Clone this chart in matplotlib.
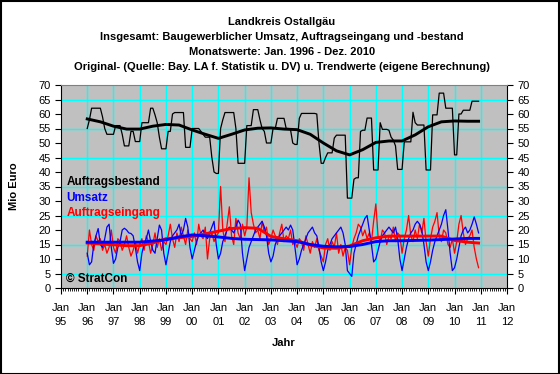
import numpy as np
import matplotlib.pyplot as plt
from matplotlib.patches import Rectangle

plt.rcParams['font.family'] = ['Liberation Sans', 'DejaVu Sans']

# monthly values Jan 1996 - Dez 2010 (Mio Euro)
umsatz = [
    12, 8, 9, 15, 18, 20.5, 15, 14, 17, 21, 22, 14,
    8.5, 10, 14, 16, 20, 20.6, 20, 19, 18.8, 18, 14, 9,
    6, 12, 15, 17, 20, 16, 13, 12, 17, 21.7, 20, 12,
    8, 12, 16, 18, 19, 20, 22, 18, 20, 24, 21, 14,
    10, 13, 16, 18, 19, 20, 18, 17, 19, 21, 23, 15,
    10, 12, 16, 18, 20, 21, 20, 19, 21, 23.4, 22, 12,
    6, 10, 14, 16, 18, 20, 21, 22, 23, 21, 18, 12,
    9, 11, 15, 17, 18, 19, 20, 21, 20, 21.7, 20, 14,
    8, 10, 13, 15, 17, 19, 20, 21, 19, 18, 14, 9,
    6, 9, 13, 15, 17, 18, 19, 20, 21, 19, 15, 6,
    5, 4, 12, 15, 18, 20, 22, 24, 25, 20, 15, 9,
    10, 13, 16, 18, 19, 20, 21, 20, 19, 21, 17, 10,
    6, 10, 14, 17, 19, 20, 22, 23, 22, 20, 15, 9,
    6, 9, 13, 16, 18, 20, 22, 25, 27, 20, 12, 6,
    7, 10, 14, 18, 20, 21, 19, 20, 22, 24.5, 22, 19,
]
auftragseingang = [
    11, 20, 15, 13, 18, 16, 17, 13, 15, 12, 14, 20,
    14, 12, 17, 16, 13, 15, 18, 14, 11, 13, 16, 12,
    15, 17, 13, 18, 16, 12, 15, 19, 14, 17, 13, 16,
    15, 18, 22, 17, 14, 19, 16, 21, 18, 15, 20, 17,
    16, 19, 15, 22, 18, 17, 21, 10, 17, 19, 16, 18,
    19, 35, 20, 16, 22, 28, 18, 15, 24, 19, 17, 22,
    18, 21, 38, 26, 22, 19, 20, 17, 23, 19, 21, 15,
    17, 20, 18, 15, 19, 22, 16, 18, 17, 20, 15, 16,
    14, 17, 16, 13, 18, 15, 12, 16, 14, 17, 13, 11,
    9, 15, 17, 13, 16, 14, 19, 12, 15, 11, 14, 13,
    8, 14, 17, 19, 22, 21, 18, 20, 17, 19, 16, 23,
    29, 18, 16, 20, 19, 15, 18, 17, 21, 16, 19, 18,
    12, 17, 20, 25, 18, 16, 20, 17, 22, 19, 24, 16,
    11, 17, 21, 23, 26, 18, 16, 20, 19, 15, 14, 17,
    12, 16, 22, 25, 19, 15, 17, 18, 20, 14, 10, 7,
]
auftragsbestand = [
    55, 58, 62, 62, 62, 62, 62, 59, 55, 53, 53, 53,
    53, 56, 56, 56, 53, 49, 49, 49, 54, 54, 50.5, 50.5,
    50.5, 57, 57, 57, 57, 62, 62, 59.7, 57, 52, 48, 48,
    48, 54, 54, 60, 60.5, 60.5, 60.5, 60.5, 60.5, 48.5, 48.5, 48.5,
    55, 55, 55, 55, 54, 53, 52, 52, 52, 45, 40, 39.5,
    39.5, 55, 58, 60.5, 60.5, 60.5, 60.5, 60.5, 55, 43, 43, 43,
    43, 56, 56, 56, 61.5, 61.5, 61.5, 58, 55, 54, 50, 50,
    50, 55, 55, 58.5, 58.5, 58.5, 58.5, 55, 55, 54.5, 50, 49.5,
    49.5, 58.5, 60.2, 60.2, 60.2, 60.2, 60.2, 60.2, 60.2, 60, 50, 43,
    43, 45, 46.6, 46.6, 46.6, 51.7, 52.7, 52.7, 52.7, 52.7, 52.7, 31,
    31, 31, 37.5, 38, 38, 54, 54.4, 54.4, 58.6, 58.6, 58.6, 40.7,
    40.7, 40.7, 57, 54.7, 54.7, 54.7, 54.4, 52, 51, 49, 40.9, 40.9,
    40.9, 50.4, 50.4, 50.4, 50.4, 60.6, 57, 56.2, 56.2, 56.2, 56.2, 40.7,
    40.7, 40.7, 59.7, 59.7, 59.7, 67.2, 67.2, 67.2, 62, 62, 62, 62,
    45.9, 45.9, 60, 60, 61.3, 61.3, 61.3, 61.3, 64.4, 64.4, 64.4, 64.4,
]

# trend values, read every 6 months (month index from Jan 1996)
trend_month = [0, 6, 12, 18, 24, 30, 36, 42, 48, 54, 60, 66, 72, 78, 84, 90,
               96, 102, 108, 114, 120, 126, 132, 138, 144, 150, 156, 162, 168, 174, 179]
trend_bestand = [58.3, 57.3, 55.8, 54.8, 54.8, 55.8, 56.4, 56.2, 54.5, 53, 51.6, 53,
                 54.5, 55.1, 55.2, 54.8, 54.6, 53, 50, 47.3, 45.9, 47.7, 50.2, 50.7,
                 50.7, 52.8, 55.6, 57.3, 57.6, 57.5, 57.5]
trend_umsatz = [15.8, 15.8, 15.8, 15.8, 15.8, 16.2, 16.6, 17.6, 18.3, 18, 17.6, 17.1,
                16.8, 16.7, 16.6, 16.3, 16, 15, 14.4, 14.2, 14.3, 15, 16, 16.3,
                16.3, 16.4, 16.5, 16.7, 16.9, 17.1, 17.1]
trend_eingang = [15.5, 15.2, 14.9, 14.6, 14.6, 15.5, 17, 17.3, 17.8, 18.7, 19.6, 20.5,
                 20.8, 20.6, 17.8, 17, 16.3, 14.8, 13.8, 13.7, 14.5, 16.3, 17.3, 17.9,
                 17.9, 17.9, 17.9, 17.9, 16.4, 15.8, 15.5]

year_labels = ['Jan\n%02d' % (y % 100) for y in range(1995, 2013)]

t = 1996 + np.arange(len(umsatz)) / 12
tt = 1996 + np.array(trend_month) / 12

W, H = 560, 374
fig = plt.figure(figsize=(W / 100, H / 100), dpi=100)
fig.patches.append(Rectangle((0.001, 0.001), 0.997, 0.996, transform=fig.transFigure,
                             fill=False, ec='black', lw=1.5))

ax = fig.add_axes([61 / W, 1 - 288 / H, 446 / W, 203 / H])
ax.set_facecolor('#c0c0c0')
ax.set_xlim(1995, 2012)
ax.set_ylim(0, 70)

for yr in range(1996, 2012):
    ax.axvline(yr, color='#00ffff', lw=1, zorder=1)
for v in range(5, 70, 10):
    ax.axhline(v, color='#00ffff', lw=1, zorder=1)

ax.plot(t, auftragseingang, color='red', lw=0.9, zorder=3)
ax.plot(t, umsatz, color='blue', lw=0.9, zorder=3)
ax.plot(t, auftragsbestand, color='black', lw=0.9, zorder=3)
ax.plot(tt, trend_eingang, color='red', lw=2.1, zorder=4)
ax.plot(tt, trend_umsatz, color='blue', lw=2.1, zorder=4)
ax.plot(tt, trend_bestand, color='black', lw=2.1, zorder=4)

ax.set_xticks(range(1995, 2013))
ax.set_xticklabels(year_labels, fontsize=8, linespacing=1.45)
ax.set_xticks(1995 + np.arange(0, 205) / 12, minor=True)
ax.set_yticks(range(0, 71, 5))
ax.tick_params(axis='both', labelsize=8, length=4, width=0.8)
ax.tick_params(axis='x', which='minor', length=2, width=0.6)
ax.tick_params(axis='y', right=True, labelright=True)
ax.tick_params(axis='x', pad=7)
for s in ['left', 'bottom', 'right']:
    ax.spines[s].set_color('black')
ax.spines['top'].set_color('#808080')

ax.set_xlabel('Jahr', fontsize=8, fontweight='bold', labelpad=8)
ax.set_ylabel('Mio Euro', fontsize=8, fontweight='bold', labelpad=14)

titles = ['Landkreis Ostallgäu',
          'Insgesamt: Baugewerblicher Umsatz, Auftragseingang und -bestand',
          'Monatswerte: Jan. 1996 - Dez. 2010',
          'Original- (Quelle: Bay. LA f. Statistik u. DV) u. Trendwerte (eigene Berechnung)']
for i, s in enumerate(titles):
    fig.text(282 / W, 1 - (22 + 15 * i) / H, s, ha='center', va='center',
             fontsize=8, fontweight='bold')

ax.text(1995.2, 36.5, 'Auftragsbestand', color='black', fontsize=8.5, fontweight='bold', va='center')
ax.text(1995.2, 31, 'Umsatz', color='blue', fontsize=8.5, fontweight='bold', va='center')
ax.text(1995.2, 25.8, 'Auftragseingang', color='red', fontsize=8.5, fontweight='bold', va='center')
ax.text(1995.2, 3.2, '© StratCon', color='black', fontsize=8.5, fontweight='bold', va='center')

fig.savefig('out.png', dpi=100)
